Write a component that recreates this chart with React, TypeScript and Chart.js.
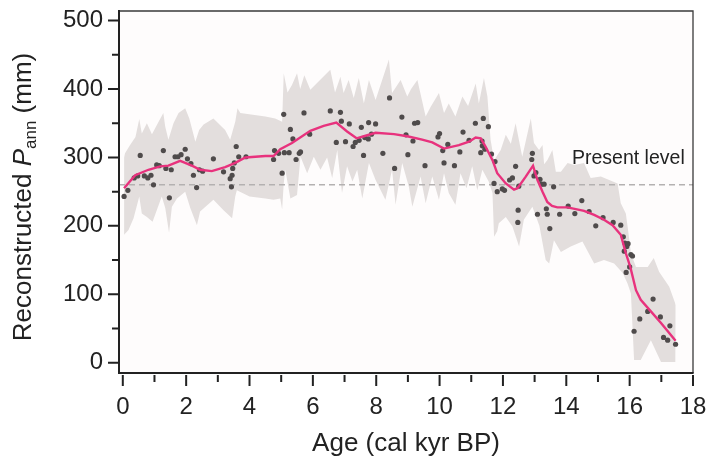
import { useEffect, useRef } from 'react';
import { Chart, registerables } from 'chart.js';

Chart.register(...registerables);

const FONT = '"Liberation Sans", Arial, Helvetica, sans-serif';

// Scatter of reconstructed values (age in cal kyr BP, P_ann in mm)
const dotAges = [
  0.04, 0.16, 0.36, 0.47, 0.55, 0.68, 0.79, 0.89, 0.97, 1.07, 1.15, 1.28, 1.36, 1.47, 1.53, 1.65, 1.74, 1.84, 1.97, 2.04,
  2.15, 2.23, 2.33, 2.42, 2.52, 2.86, 3.18, 3.39, 3.43, 3.45, 3.47, 3.52, 3.58, 3.66, 3.89, 4.76, 4.79, 4.92, 5.03, 5.08,
  5.1, 5.25, 5.29, 5.37, 5.47, 5.57, 5.61, 5.72, 5.9, 6.55, 6.74, 6.87, 6.9, 7.03, 7.15, 7.27, 7.34, 7.46, 7.53, 7.6,
  7.64, 7.75, 7.76, 7.85, 7.98, 8.21, 8.42, 8.58, 8.81, 8.94, 9.0, 9.16, 9.21, 9.31, 9.54, 9.95, 10.0, 10.1, 10.14, 10.26,
  10.47, 10.64, 10.74, 10.93, 11.13, 11.3, 11.34, 11.35, 11.38, 11.43, 11.54, 11.64, 11.72, 11.75, 11.82, 11.98, 12.05, 12.21, 12.3, 12.4,
  12.47, 12.48, 12.5, 12.91, 12.93, 12.98, 13.04, 13.09, 13.17, 13.22, 13.3, 13.37, 13.4, 13.48, 13.6, 13.79, 14.06, 14.27, 14.49, 14.72,
  14.93, 15.16, 15.48, 15.72, 15.8, 15.83, 15.85, 15.89, 15.91, 15.95, 16.0, 16.04, 16.09, 16.14, 16.32, 16.57, 16.74, 16.97, 17.07, 17.2,
  17.27, 17.45,
];
const dotValues = [
  243, 252, 270, 273, 303, 273, 270, 274, 260, 289, 288, 310, 284, 241, 282, 301, 301, 304, 312, 298,
  291, 274, 256, 282, 280, 298, 279, 269, 257, 274, 284, 292, 316, 301, 301, 297, 310, 306, 277, 363,
  307, 307, 341, 327, 297, 306, 308, 365, 334, 368, 322, 366, 353, 323, 349, 316, 322, 325, 344, 303,
  329, 327, 351, 334, 349, 306, 387, 284, 359, 333, 304, 324, 350, 351, 288, 330, 335, 310, 292, 319,
  288, 308, 337, 325, 350, 307, 324, 317, 357, 312, 345, 305, 262, 294, 250, 254, 252, 267, 270, 287,
  205, 223, 258, 297, 306, 273, 278, 217, 268, 261, 261, 225, 217, 196, 257, 217, 229, 218, 237, 221,
  200, 212, 205, 201, 184, 163, 175, 132, 170, 174, 140, 158, 156, 46, 64, 75, 93, 67, 37, 33,
  54, 27,
];

// Smoothed trend (pink line)
const trendAges = [
  0.04, 0.39, 0.81, 1.18, 1.44, 1.81, 1.97, 2.23, 2.44, 2.81, 3.23, 3.55, 3.87, 4.5, 4.76, 4.97, 5.34, 5.92, 6.34, 6.74,
  7.08, 7.38, 7.61, 7.98, 8.56, 8.98, 9.45, 9.77, 10.14, 10.61, 10.93, 11.14, 11.3, 11.45, 11.67, 11.82, 12.09, 12.35, 12.46, 12.72,
  12.95, 13.09, 13.25, 13.4, 13.55, 13.72, 14.04, 14.56, 14.88, 15.19, 15.46, 15.72, 15.88, 16.02, 16.2, 16.35, 16.67, 16.99, 17.45,
];
const trendValues = [
  255, 274, 282, 287, 288, 295, 292, 287, 282, 280, 286, 292, 300, 302, 302, 312, 321, 339, 346, 351,
  338, 328, 331, 336, 334, 331, 326, 322, 313, 318, 323, 329, 328, 316, 296, 277, 262, 253, 255, 272,
  288, 267, 250, 235, 229, 227, 227, 222, 216, 209, 201, 187, 160, 140, 106, 92, 75, 58, 32,
];

// Uncertainty envelope, upper edge
const bandUpperAges = [
  0.04, 0.07, 0.23, 0.4, 0.52, 0.6, 0.76, 0.92, 1.13, 1.28, 1.34, 1.44, 1.6, 1.76, 1.97, 2.1, 2.29, 2.41, 2.55, 2.86,
  3.23, 3.39, 3.55, 3.62, 3.71, 4.5, 4.81, 5.03, 5.08, 5.2, 5.34, 5.5, 5.6, 5.73, 5.92, 6.55, 6.7, 6.87, 6.97, 7.13,
  7.29, 7.45, 7.61, 7.77, 7.98, 8.4, 8.5, 8.77, 8.98, 9.1, 9.3, 9.56, 9.72, 9.98, 10.14, 10.29, 10.5, 10.72, 10.9, 11.14,
  11.24, 11.4, 11.51, 11.61, 11.72, 11.93, 12.09, 12.25, 12.4, 12.61, 12.88, 12.98, 13.14, 13.25, 13.3, 13.4, 13.5, 13.56, 13.67, 13.83,
  14.04, 14.25, 14.56, 14.77, 15.09, 15.62, 15.72, 15.88, 15.95, 16.04, 16.2, 16.57, 16.76, 16.93, 17.25, 17.46,
];
const bandUpperValues = [
  300, 306, 318, 330, 356, 335, 350, 334, 352, 365, 345, 326, 350, 365, 372, 357, 323, 340, 348, 357,
  340, 326, 352, 372, 365, 360, 357, 352, 423, 395, 406, 423, 400, 420, 399, 428, 395, 418, 394, 413,
  387, 416, 379, 413, 384, 443, 394, 413, 389, 400, 413, 360, 374, 394, 365, 379, 360, 389, 375, 408,
  379, 416, 389, 326, 296, 311, 333, 320, 350, 301, 357, 321, 311, 318, 290, 296, 305, 311, 279, 279,
  292, 289, 292, 270, 272, 262, 233, 218, 194, 160, 140, 140, 153, 133, 111, 84,
];

// Uncertainty envelope, lower edge
const bandLowerAges = [
  0.04, 0.18, 0.34, 0.52, 0.6, 0.76, 0.94, 1.23, 1.34, 1.46, 1.55, 1.71, 1.97, 2.13, 2.34, 2.44, 2.86, 3.18, 3.45, 3.55,
  3.6, 4.0, 4.5, 4.76, 4.97, 5.03, 5.08, 5.13, 5.29, 5.5, 5.61, 5.82, 6.03, 6.24, 6.45, 6.61, 6.77, 6.92, 7.08, 7.25,
  7.4, 7.56, 7.77, 7.98, 8.29, 8.5, 8.61, 8.82, 9.03, 9.14, 9.4, 9.56, 9.77, 9.98, 10.14, 10.29, 10.5, 10.66, 10.85, 11.03,
  11.19, 11.35, 11.55, 11.67, 11.72, 11.82, 11.87, 12.09, 12.3, 12.51, 12.66, 12.93, 13.15, 13.35, 13.46, 13.61, 13.83, 14.14, 14.51, 14.88,
  15.19, 15.51, 15.78, 15.93, 16.04, 16.14, 16.35, 16.67, 16.99, 17.45,
];
const bandLowerValues = [
  187, 194, 211, 243, 218, 213, 206, 243, 226, 190, 228, 240, 250, 226, 201, 221, 238, 223, 211, 243,
  252, 243, 240, 238, 240, 224, 262, 282, 240, 245, 301, 277, 301, 282, 300, 270, 311, 248, 287, 265,
  282, 240, 292, 267, 238, 282, 231, 292, 257, 228, 272, 233, 272, 238, 277, 248, 231, 277, 255, 287,
  252, 282, 265, 248, 184, 192, 204, 213, 199, 170, 209, 228, 200, 150, 145, 179, 162, 170, 177, 145,
  150, 145, 131, 116, 101, 4, 4, 33, 1, 1,
];

const PRESENT_LEVEL = 260;
const PRESENT_LABEL = 'Present level';
const X_TITLE = 'Age (cal kyr BP)';

const pts = (xs: number[], ys: number[]) => xs.map((x, i) => ({ x, y: ys[i] }));

export default function App() {
  const ref = useRef<HTMLCanvasElement>(null);

  useEffect(() => {
    const canvas = ref.current;
    if (!canvas) return;

    const decor = {
      id: 'decor',
      beforeDraw(chart: any) {
        const { ctx, chartArea: a } = chart;
        ctx.save();
        ctx.fillStyle = '#fefcfc';
        ctx.fillRect(a.left, a.top, a.right - a.left, a.bottom - a.top);
        ctx.restore();
      },
      afterDraw(chart: any) {
        const { ctx, chartArea: a } = chart;
        const xs = chart.scales.x;
        const ys = chart.scales.y;
        ctx.save();
        // frame
        ctx.strokeStyle = '#3a3a3a';
        ctx.lineWidth = 1.3;
        ctx.beginPath();
        ctx.moveTo(a.left, a.top);
        ctx.lineTo(a.right, a.top);
        ctx.lineTo(a.right, a.bottom);
        ctx.stroke();
        ctx.strokeStyle = '#222';
        ctx.lineWidth = 2;
        ctx.beginPath();
        ctx.moveTo(a.left, a.top - 1);
        ctx.lineTo(a.left, a.bottom);
        ctx.lineTo(a.right + 0.6, a.bottom);
        ctx.stroke();
        // y ticks
        ctx.lineWidth = 2;
        ctx.beginPath();
        ys.ticks.forEach((t: any) => {
          const y = ys.getPixelForValue(t.value);
          const major = Math.round(t.value) % 100 === 0;
          ctx.moveTo(a.left - (major ? 11 : 7), y);
          ctx.lineTo(a.left, y);
        });
        // x ticks
        xs.ticks.forEach((t: any) => {
          const x = xs.getPixelForValue(t.value);
          const major = Math.round(t.value) % 2 === 0;
          ctx.moveTo(x, a.bottom + 2);
          ctx.lineTo(x, a.bottom + (major ? 13 : 9));
        });
        ctx.stroke();
        // present level label
        ctx.fillStyle = '#222';
        ctx.font = `19.5px ${FONT}`;
        ctx.textAlign = 'left';
        ctx.textBaseline = 'alphabetic';
        ctx.fillText(PRESENT_LABEL, 572, 164);
        // y title with italic P and subscript
        const big = `26px ${FONT}`;
        const ital = `italic 26px ${FONT}`;
        const small = `17px ${FONT}`;
        const parts: [string, string, number][] = [
          ['Reconstructed ', big, 0],
          ['P', ital, 0],
          ['ann', small, 5],
          [' (mm)', big, 0],
        ];
        let total = 0;
        parts.forEach(([s, f]) => {
          ctx.font = f;
          total += ctx.measureText(s).width;
        });
        ctx.translate(31, 197);
        ctx.rotate(-Math.PI / 2);
        let cx = -total / 2;
        parts.forEach(([s, f, dy]) => {
          ctx.font = f;
          ctx.fillText(s, cx, dy);
          cx += ctx.measureText(s).width;
        });
        ctx.restore();
      },
    };

    const chart = new Chart(canvas, {
      type: 'line',
      data: {
        datasets: [
          {
            label: 'trend',
            data: pts(trendAges, trendValues),
            borderColor: '#e8327d',
            borderWidth: 2.4,
            pointRadius: 0,
            tension: 0,
            fill: false,
            order: 0,
          },
          {
            label: 'samples',
            data: pts(dotAges, dotValues),
            showLine: false,
            pointRadius: 2.6,
            pointBackgroundColor: '#4f4b4b',
            pointBorderWidth: 0,
            borderColor: '#4f4b4b',
            order: 1,
          },
          {
            label: 'present',
            data: [
              { x: -0.12, y: PRESENT_LEVEL },
              { x: 18, y: PRESENT_LEVEL },
            ],
            borderColor: '#b4b1b1',
            borderWidth: 1.5,
            borderDash: [6, 4],
            pointRadius: 0,
            fill: false,
            order: 2,
          },
          {
            label: 'upper',
            data: pts(bandUpperAges, bandUpperValues),
            borderWidth: 0,
            borderColor: 'rgba(0,0,0,0)',
            backgroundColor: '#e3dedd',
            pointRadius: 0,
            fill: '+1',
            order: 3,
          },
          {
            label: 'lower',
            data: pts(bandLowerAges, bandLowerValues),
            borderWidth: 0,
            borderColor: 'rgba(0,0,0,0)',
            backgroundColor: '#e3dedd',
            pointRadius: 0,
            fill: false,
            order: 4,
          },
        ],
      },
      options: {
        responsive: false,
        animation: false,
        events: [],
        layout: { padding: { top: 11, right: 14, left: 0, bottom: 0 } },
        plugins: { legend: { display: false }, tooltip: { enabled: false } },
        scales: {
          x: {
            type: 'linear',
            min: -0.12,
            max: 18,
            grid: { display: false, drawTicks: false },
            border: { display: false },
            ticks: {
              stepSize: 1,
              includeBounds: false,
              autoSkip: false,
              maxRotation: 0,
              padding: 20,
              color: '#222',
              font: { family: FONT, size: 24 },
              callback: (v: any) => (Math.round(v) % 2 === 0 ? String(v) : ''),
            },
            title: {
              display: true,
              text: X_TITLE,
              color: '#222',
              font: { family: FONT, size: 26 },
              padding: { top: 0, bottom: 3 },
            },
            afterFit: (s: any) => {
              s.height = 89;
              s.paddingLeft = 0;
              s.paddingRight = 0;
            },
          },
          y: {
            min: -15,
            max: 514,
            grid: { display: false, drawTicks: false },
            border: { display: false },
            ticks: {
              stepSize: 50,
              includeBounds: false,
              autoSkip: false,
              padding: 16,
              color: '#222',
              font: { family: FONT, size: 24 },
              callback: (v: any) => (Math.round(v) % 100 === 0 ? String(v) : ''),
            },
            afterFit: (s: any) => {
              s.width = 119;
              s.paddingTop = 0;
              s.paddingBottom = 0;
            },
          },
        },
      },
      plugins: [decor],
    });

    return () => chart.destroy();
  }, []);

  return (
    <div style={{ position: 'absolute', left: 0, top: 0, width: 707, height: 462, background: '#fff' }}>
      <canvas ref={ref} width={707} height={462} style={{ display: 'block', width: 707, height: 462 }} />
    </div>
  );
}
